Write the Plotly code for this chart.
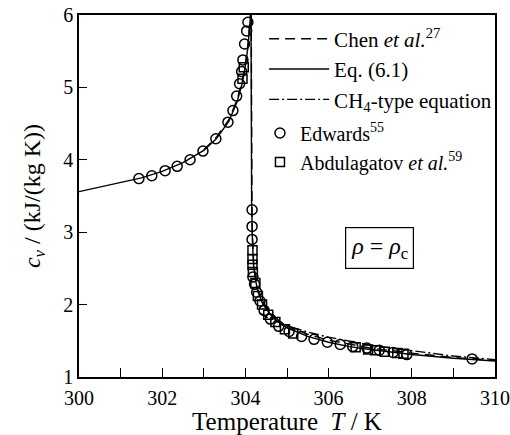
import plotly.graph_objects as go

# Isochoric heat capacity of CO2 along the critical isochore (rho = rho_c)

# Eq. (6.1): two-phase branch (T < Tc) and one-phase branch (T > Tc)
eq_T_low = [300.0, 300.5, 301.0, 301.5, 302.0, 302.5, 303.0, 303.3, 303.6, 303.8, 303.92, 304.0, 304.06, 304.1, 304.125]
eq_cv_low = [3.56, 3.62, 3.68, 3.75, 3.84, 3.96, 4.13, 4.29, 4.53, 4.80, 5.05, 5.30, 5.55, 5.80, 6.0]
eq_T_high = [304.135, 304.14, 304.15, 304.17, 304.2, 304.25, 304.3, 304.4, 304.5, 304.65, 304.8, 305.0, 305.5, 306.0, 306.5, 307.0, 308.0, 309.0, 310.0]
eq_cv_high = [6.0, 4.6, 3.4, 2.85, 2.52, 2.32, 2.18, 2.03, 1.94, 1.83, 1.76, 1.68, 1.56, 1.48, 1.42, 1.38, 1.31, 1.26, 1.22]

# Chen et al.
chen_T_low = [303.0, 303.3, 303.6, 303.8, 303.92, 304.0, 304.06, 304.1, 304.12]
chen_cv_low = [4.14, 4.31, 4.55, 4.83, 5.08, 5.33, 5.58, 5.82, 6.0]
chen_T_high = [304.14, 304.145, 304.16, 304.2, 304.3, 304.5, 304.8, 305.0, 305.5, 306.0, 306.5, 307.0, 308.0, 309.0, 310.0]
chen_cv_high = [6.0, 4.2, 3.1, 2.55, 2.2, 1.96, 1.78, 1.71, 1.59, 1.51, 1.45, 1.40, 1.33, 1.27, 1.23]

# CH4-type equation
ch4_T = [304.33, 304.6, 305.0, 305.5, 306.0, 306.5, 307.0, 307.5, 308.0, 309.0, 310.0]
ch4_cv = [1.89, 1.80, 1.71, 1.62, 1.55, 1.49, 1.44, 1.40, 1.36, 1.29, 1.24]

# Edwards (ref. 55)
edw_T = [301.44, 301.75, 302.07, 302.36, 302.67, 302.98, 303.29, 303.58, 303.70, 303.79, 303.86, 303.91,
         303.94, 303.98, 304.03, 304.06,
         304.16, 304.16, 304.16, 304.18, 304.22, 304.27, 304.35, 304.45, 304.60, 304.80, 305.05, 305.35,
         305.65, 305.97, 306.28, 306.58, 306.92, 307.22, 307.55, 307.88, 309.45]
edw_cv = [3.74, 3.78, 3.85, 3.91, 4.00, 4.12, 4.29, 4.52, 4.68, 4.88, 5.05, 5.22,
          5.38, 5.60, 5.78, 5.90,
          3.31, 3.08, 2.90, 2.38, 2.28, 2.17, 2.05, 1.92, 1.80, 1.70, 1.63, 1.56,
          1.52, 1.48, 1.45, 1.42, 1.40, 1.37, 1.34, 1.31, 1.25]

# Abdulagatov et al. (ref. 59)
abd_T = [303.93, 303.96, 304.17, 304.17, 304.17, 304.18, 304.24, 304.30, 304.40, 304.55, 304.72, 304.95,
         305.15, 306.65, 306.95, 307.12, 307.35, 307.65, 307.80]
abd_cv = [5.12, 5.28, 2.75, 2.63, 2.55, 2.45, 2.30, 2.12, 2.00, 1.86, 1.76, 1.66,
          1.60, 1.41, 1.38, 1.37, 1.35, 1.33, 1.32]

x_ticks = [300, 302, 304, 306, 308, 310]
y_ticks = [1, 2, 3, 4, 5, 6]

FONT = "Liberation Serif"
LW = 1.4
DASH = "10px,6px"
DASHDOT = "10px,3px,2px,3px"

fig = go.Figure()

# Curves
fig.add_trace(go.Scatter(x=chen_T_low, y=chen_cv_low, mode="lines", line=dict(color="black", width=LW, dash=DASH),
                         name="Chen <i>et al.</i><sup>27</sup>", legend="legend", legendgroup="chen"))
fig.add_trace(go.Scatter(x=chen_T_high, y=chen_cv_high, mode="lines", line=dict(color="black", width=LW, dash=DASH),
                         showlegend=False, legendgroup="chen"))
fig.add_trace(go.Scatter(x=eq_T_low, y=eq_cv_low, mode="lines", line=dict(color="black", width=LW),
                         name="Eq. (6.1)", legend="legend", legendgroup="eq"))
fig.add_trace(go.Scatter(x=eq_T_high, y=eq_cv_high, mode="lines", line=dict(color="black", width=LW),
                         showlegend=False, legendgroup="eq"))
fig.add_trace(go.Scatter(x=ch4_T, y=ch4_cv, mode="lines", line=dict(color="black", width=LW, dash=DASHDOT),
                         name="CH<sub>4</sub>-type equation", legend="legend"))

# Experimental data
fig.add_trace(go.Scatter(x=edw_T, y=edw_cv, mode="markers",
                         marker=dict(symbol="circle-open", size=10, color="black", line=dict(width=1.5)),
                         name="Edwards<sup>55</sup>", legend="legend2"))
fig.add_trace(go.Scatter(x=abd_T, y=abd_cv, mode="markers",
                         marker=dict(symbol="square-open", size=9, color="black", line=dict(width=1.5)),
                         name="Abdulagatov <i>et al.</i><sup>59</sup>", legend="legend2"))

axis_common = dict(showline=True, linecolor="black", linewidth=1.5, mirror=True, showgrid=False, zeroline=False,
                   automargin=False, ticks="inside", tickcolor="black", tickwidth=1.2,
                   tickfont=dict(family=FONT, size=20, color="black"))

fig.update_xaxes(range=[300, 310], tickvals=x_ticks, ticklen=9, ticklabelstandoff=2,
                 minor=dict(dtick=1, ticks="inside", ticklen=9, tickcolor="black", tickwidth=1.2),
                 title=dict(text="Temperature  <i>T</i> / K", font=dict(family=FONT, size=25, color="black"), standoff=6),
                 **axis_common)
fig.update_yaxes(range=[1, 6], tickvals=y_ticks, ticklen=8,
                 title=dict(text="<i>c</i><sub><i>v</i></sub> / (kJ/(kg K))", font=dict(family=FONT, size=24, color="black"), standoff=16),
                 **axis_common)

fig.add_annotation(x=0.722, y=0.357, xref="paper", yref="paper", xanchor="center", yanchor="middle", showarrow=False,
                   text="<i>ρ</i> = <i>ρ</i><sub>c</sub>", font=dict(family=FONT, size=24, color="black"),
                   bordercolor="black", borderwidth=1.2, borderpad=5, bgcolor="white")

fig.update_layout(
    width=510, height=435,
    margin=dict(l=79, r=15, t=15, b=58),
    paper_bgcolor="white", plot_bgcolor="white",
    font=dict(family=FONT, color="black"),
    legend=dict(x=0.445, y=0.99, xanchor="left", yanchor="top", bgcolor="rgba(0,0,0,0)",
                font=dict(family=FONT, size=21, color="black"), itemwidth=60, tracegroupgap=0),
    legend2=dict(x=0.435, y=0.728, xanchor="left", yanchor="top", bgcolor="rgba(0,0,0,0)",
                 font=dict(family=FONT, size=20, color="black"), itemwidth=30),
)

fig.write_html("out.html")
